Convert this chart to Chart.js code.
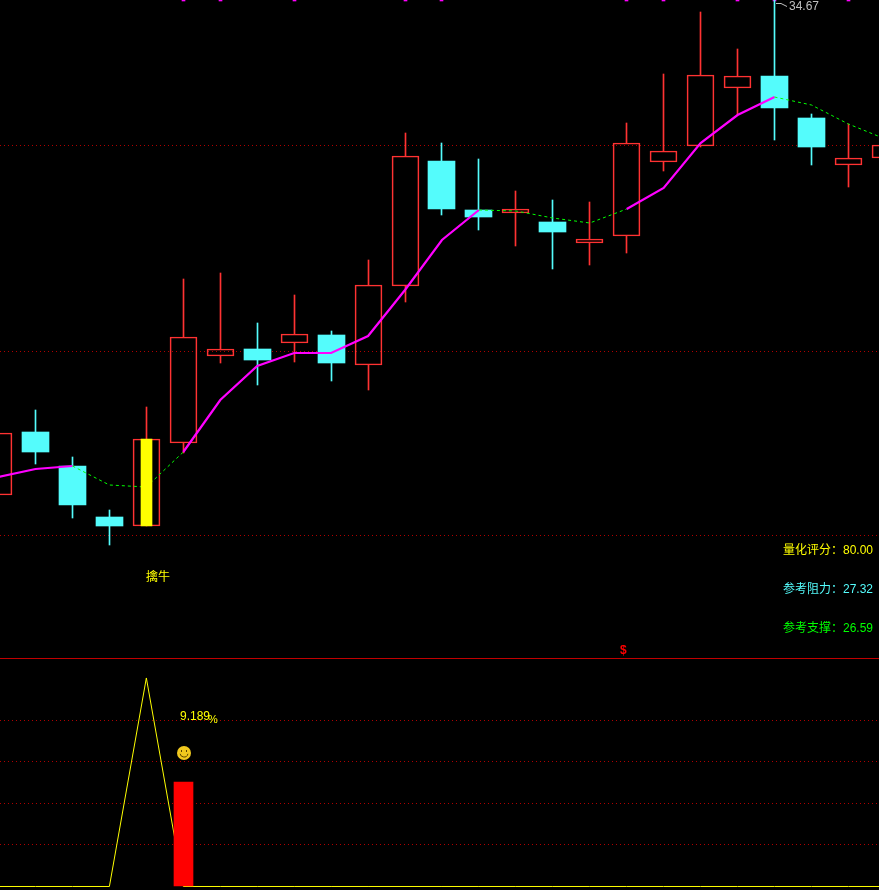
<!DOCTYPE html>
<html>
<head>
<meta charset="utf-8">
<title>K-line</title>
<script src="https://cdn.jsdelivr.net/npm/chart.js@4"></script>
<style>
  html, body { margin: 0; padding: 0; background: #000; overflow: hidden; }
  #wrap { position: relative; width: 879px; height: 890px; background: #000; }
  #priceChart { position: absolute; left: 0; top: 0; }
  #lowerPane { position: absolute; left: 0; top: 658px; width: 879px; height: 231px; border-top: 1px solid #c00000; }
  #lowerChart { display: block; }
</style>
</head>
<body>
<div id="wrap">
  <canvas id="priceChart" width="879" height="658"></canvas>
  <div id="lowerPane"><canvas id="lowerChart" width="879" height="231"></canvas></div>
</div>
<script>
// K-line values
const days   = [0,1,2,3,4,5,6,7,8,9,10,11,12,13,14,15,16,17,18,19,20,21,22,23,24];
const opens  = [22.325,23.9,23.05,21.775,21.55,23.625,25.8,25.975,26.125,26.325,25.575,27.55,30.675,29.45,29.375,29.15,28.625,28.8,30.65,31.05,32.5,32.8,31.75,30.575,30.75];
const closes = [23.875,23.4,22.075,21.55,23.725,26.275,25.975,25.7,26.35,25.625,27.575,30.8,29.475,29.275,29.475,28.9,28.725,31.125,30.925,32.825,32.8,32.0,31.025,30.75,31.075];
const highs  = [23.875,24.45,23.275,21.95,24.525,27.725,27.875,26.625,27.325,26.425,28.2,31.375,31.125,30.725,29.925,29.7,29.65,31.625,32.85,34.4,33.475,34.7,31.85,31.6,31.075];
const lows   = [22.325,23.1,21.75,21.075,21.55,23.375,25.625,25.075,25.65,25.175,24.95,27.15,29.325,28.95,28.55,27.975,28.075,28.375,30.425,31.025,31.825,31.2,30.575,30.025,30.75];
const maLine = [22.775,22.975,23.05,22.575,22.525,23.4,24.7,25.55,25.875,25.875,26.3,27.45,28.7,29.45,29.425,29.25,29.125,29.475,30.0,31.125,31.825,32.275,32.075,31.6,31.225];
const priceTicks = [31.075,25.925,21.325];
const topMarkDays = [5,6,8,11,12,17,18,20,21,23];
const topMarkRange = [34.675,34.7];
const signalDay = 4;

// lower pane
const lowerLine = [0,0,0,0,100.5,0,0,0,0,0,0,0,0,0,0,0,0,0,0,0,0,0,0,0,0];
const lowerBarDay = 5;
const lowerBarValue = 50.25;
const lowerTicks = [20,40,60,80];

const RED = '#ff3232', CYAN = '#54fcfc', YELLOW = '#ffff00', GREEN = '#00ff00', MAGENTA = '#ff00ff', DOT = '#b00000';
const XMIN = 0.0392, XMAX = 23.828;

function isUp(i) { return closes[i] >= opens[i]; }
function candleColor(ctx) { return isUp(ctx.dataIndex) ? RED : CYAN; }

// the line only turns magenta one day after it starts rising
function maRising(i) { return maLine[i + 1] >= maLine[i]; }
function maStrong(c) {
  const i = c.p0DataIndex;
  return maRising(i) && (i === 0 || maRising(i - 1));
}

// bars land on whole pixels so 1px wicks stay sharp
const snapBars = {
  id: 'snapBars',
  beforeDatasetsDraw(chart) {
    chart.data.datasets.forEach((ds, n) => {
      const meta = chart.getDatasetMeta(n);
      if (meta.type !== 'bar') return;
      meta.data.forEach(el => {
        el.x = Math.floor(el.x) + 0.5;
        el.y = Math.round(el.y);
        el.base = Math.round(el.base);
      });
    });
  }
};

function label(ctx, text, x, y, color, font) {
  ctx.font = font || '12px "Liberation Sans","Noto Sans CJK SC"';
  ctx.fillStyle = color;
  ctx.textBaseline = 'middle';
  ctx.fillText(text, x, y);
}

const priceLabels = {
  id: 'priceLabels',
  afterDatasetsDraw(chart) {
    const ctx = chart.ctx;
    ctx.save();
    // high marker
    ctx.strokeStyle = '#c0c0c0';
    ctx.lineWidth = 1;
    ctx.beginPath();
    ctx.moveTo(776, 3.5);
    ctx.lineTo(781, 3.5);
    ctx.lineTo(787, 6.5);
    ctx.stroke();
    label(ctx, '34.67', 789, 7, '#c0c0c0');
    label(ctx, '擒牛', 146, 576, YELLOW, '12px "Noto Sans CJK SC"');
    label(ctx, '量化评分：80.00', 783, 551, YELLOW);
    label(ctx, '参考阻力：27.32', 783, 590, CYAN);
    label(ctx, '参考支撑：26.59', 783, 629, GREEN);
    label(ctx, '$', 620, 651, '#ff0000', 'bold 12px "Liberation Sans"');
    ctx.restore();
  }
};

const lowerLabels = {
  id: 'lowerLabels',
  afterDatasetsDraw(chart) {
    const ctx = chart.ctx;
    ctx.save();
    label(ctx, '9.189', 180, 58, YELLOW);
    label(ctx, '%', 208, 61, YELLOW, '11px "Liberation Sans"');
    // smiley
    ctx.fillStyle = '#f0c81e';
    ctx.beginPath();
    ctx.arc(184, 94, 7, 0, Math.PI * 2);
    ctx.fill();
    ctx.fillStyle = '#5a4400';
    ctx.fillRect(181, 91, 1, 2);
    ctx.fillRect(186, 91, 1, 2);
    ctx.strokeStyle = '#5a4400';
    ctx.lineWidth = 1;
    ctx.beginPath();
    ctx.arc(184, 94, 4, 0.2, Math.PI - 0.2);
    ctx.stroke();
    ctx.restore();
  }
};

function yScale(min, max, tickValues) {
  return {
    min: min,
    max: max,
    afterBuildTicks: axis => { axis.ticks = tickValues.map(v => ({ value: v })); },
    afterFit: axis => { axis.width = 0; },
    ticks: { display: false },
    border: { display: false, dash: [1, 3] },
    grid: { color: DOT, lineWidth: 1, drawTicks: false }
  };
}
const xScale = { type: 'linear', display: false, offset: false, min: XMIN, max: XMAX };

new Chart(document.getElementById('priceChart'), {
  type: 'bar',
  data: {
    datasets: [
      {
        label: 'signal',
        order: 0,
        data: [{ x: signalDay, y: [opens[signalDay], closes[signalDay]] }],
        backgroundColor: YELLOW,
        barThickness: 11
      },
      {
        type: 'line',
        label: 'MA',
        order: 1,
        data: days.map(d => ({ x: d, y: maLine[d] })),
        pointRadius: 0,
        tension: 0,
        borderColor: MAGENTA,
        borderWidth: 2.2,
        segment: {
          borderColor: c => maStrong(c) ? MAGENTA : GREEN,
          borderWidth: c => maStrong(c) ? 2.2 : 1,
          borderDash: c => maStrong(c) ? undefined : [3, 3]
        }
      },
      {
        label: 'body',
        order: 2,
        data: days.map(d => ({ x: d, y: [opens[d], closes[d]] })),
        backgroundColor: ctx => isUp(ctx.dataIndex) ? 'rgba(0,0,0,0)' : CYAN,
        borderColor: candleColor,
        borderWidth: ctx => isUp(ctx.dataIndex) ? 1 : 0,
        borderSkipped: false,
        barThickness: 27
      },
      {
        label: 'upper wick',
        order: 3,
        data: days.map(d => ({ x: d, y: [Math.max(opens[d], closes[d]), highs[d]] })),
        backgroundColor: candleColor,
        barThickness: 1
      },
      {
        label: 'lower wick',
        order: 3,
        data: days.map(d => ({ x: d, y: [lows[d], Math.min(opens[d], closes[d])] })),
        backgroundColor: candleColor,
        barThickness: 1
      },
      {
        label: 'top marks',
        order: 4,
        data: topMarkDays.map(d => ({ x: d, y: topMarkRange })),
        backgroundColor: MAGENTA,
        barThickness: 3
      }
    ]
  },
  options: {
    responsive: false,
    animation: false,
    layout: { padding: 0 },
    datasets: { bar: { grouped: false } },
    plugins: { legend: { display: false }, tooltip: { enabled: false } },
    scales: { x: xScale, y: yScale(18.25, 34.7, priceTicks) }
  },
  plugins: [snapBars, priceLabels]
});

new Chart(document.getElementById('lowerChart'), {
  type: 'bar',
  data: {
    datasets: [
      {
        label: 'bar',
        order: 0,
        data: [{ x: lowerBarDay, y: lowerBarValue }],
        backgroundColor: '#ff0000',
        barThickness: 19
      },
      {
        type: 'line',
        label: 'line',
        order: 1,
        data: days.map(d => ({ x: d, y: lowerLine[d] })),
        pointRadius: 0,
        tension: 0,
        borderColor: YELLOW,
        borderWidth: 1
      }
    ]
  },
  options: {
    responsive: false,
    animation: false,
    layout: { padding: 0 },
    datasets: { bar: { grouped: false } },
    plugins: { legend: { display: false }, tooltip: { enabled: false } },
    scales: { x: xScale, y: yScale(-1.69, 109.64, lowerTicks) }
  },
  plugins: [snapBars, lowerLabels]
});
</script>
</body>
</html>
